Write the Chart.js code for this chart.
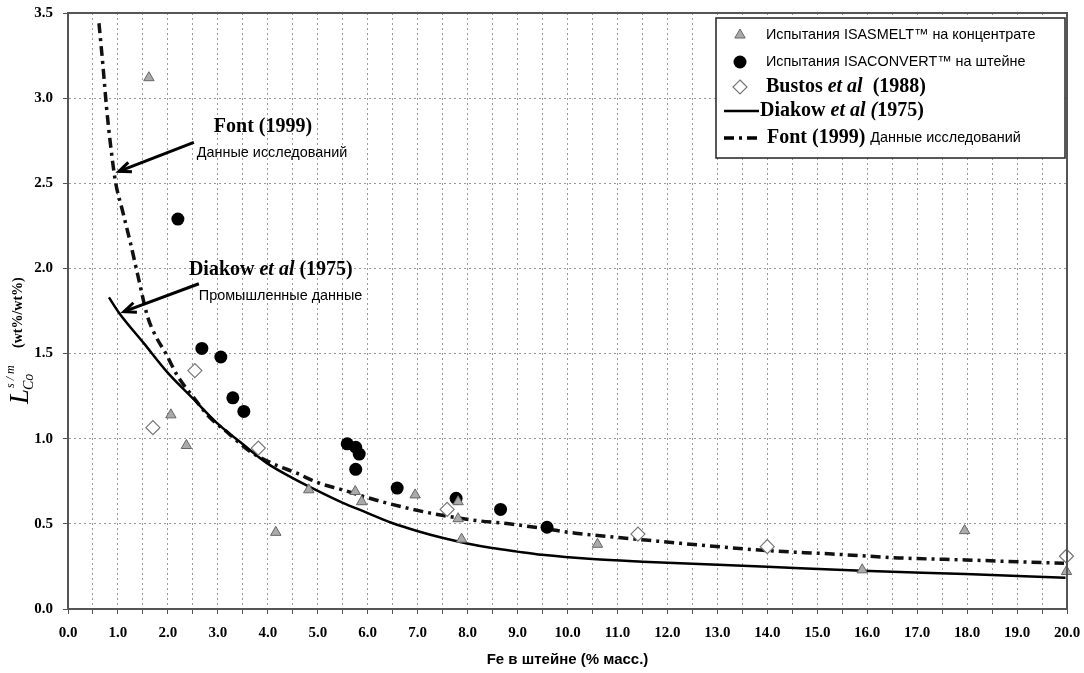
<!DOCTYPE html>
<html lang="ru">
<head>
<meta charset="UTF-8">
<title>Co distribution vs Fe in matte</title>
<style>
  body { margin: 0; background: #fff; }
  #wrap { position: relative; width: 1084px; height: 673px; }
</style>
</head>
<body>
<div id="wrap"><canvas id="myChart"></canvas></div>

<script src="https://cdn.jsdelivr.net/npm/chart.js"></script>
<script>
// --- data ---
const isasmeltX = [1.62, 2.06, 2.37, 4.16, 4.82, 5.75, 5.88, 6.95, 7.81, 7.81, 7.88, 10.60, 15.90, 17.95, 19.99]
const isasmeltY = [3.12, 1.14, 0.96, 0.45, 0.70, 0.69, 0.63, 0.67, 0.63, 0.53, 0.41, 0.38, 0.23, 0.46, 0.22]

const isaconvertX = [2.20, 2.68, 3.06, 3.30, 3.52, 5.59, 5.76, 5.83, 5.76, 6.59, 7.77, 8.66, 9.59]
const isaconvertY = [2.29, 1.53, 1.48, 1.24, 1.16, 0.97, 0.95, 0.91, 0.82, 0.71, 0.65, 0.585, 0.48]

const bustosX = [1.70, 2.54, 3.81, 7.59, 11.41, 14.00, 19.99]
const bustosY = [1.065, 1.40, 0.945, 0.585, 0.44, 0.366, 0.31]

const diakowX = [0.82, 1.02, 1.52, 1.99, 2.49, 2.99, 3.49, 3.99, 4.49, 4.99, 5.49, 5.99, 6.49, 6.99, 7.49, 7.99, 8.49, 8.99, 9.49, 10.5, 11.5, 14.0, 15.9, 17.97, 19.97]
const diakowY = [1.83, 1.74, 1.56, 1.39, 1.24, 1.09, 0.97, 0.855, 0.77, 0.695, 0.625, 0.565, 0.505, 0.458, 0.418, 0.385, 0.358, 0.337, 0.318, 0.293, 0.278, 0.248, 0.225, 0.205, 0.184]

const fontX = [0.62, 0.70, 0.77, 0.85, 0.95, 1.09, 1.25, 1.39, 1.59, 1.76, 1.96, 2.19, 2.52, 2.82, 3.22, 3.62, 4.09, 4.56, 5.02, 5.49, 6.16, 6.83, 7.49, 8.16, 8.83, 9.49, 10.16, 10.83, 11.56, 12.63, 14.0, 15.3, 16.64, 17.97, 19.94]
const fontY = [3.44, 3.19, 2.95, 2.73, 2.51, 2.34, 2.15, 1.97, 1.72, 1.60, 1.50, 1.37, 1.24, 1.13, 1.03, 0.93, 0.855, 0.80, 0.74, 0.70, 0.64, 0.59, 0.55, 0.52, 0.50, 0.474, 0.445, 0.425, 0.405, 0.376, 0.343, 0.323, 0.30, 0.288, 0.268]

const seriesNames = [
  'Испытания ISASMELT™ на концентрате',
  'Испытания ISACONVERT™ на штейне',
  'Bustos et al (1988)',
  'Diakow et al (1975)',
  'Font (1999) Данные исследований'
]
const xTitle = 'Fe в штейне (% масс.)'
const xMin = 0, xMax = 20, yMin = 0, yMax = 3.5, step = 0.5

const SERIF_B = 'bold 20px "Liberation Serif"'
const SERIF_BI = 'italic bold 20px "Liberation Serif"'
const SANS = '14.4px "Liberation Sans"'
const TICK_FONT = {family: 'Liberation Serif', size: 15, weight: 'bold'}
const FONT_DASH = [10, 5, 3, 5]

const pts = (xs, ys) => xs.map((x, i) => ({x: x, y: ys[i]}))

function drawParts(ctx, parts, x, y) {
  ctx.textAlign = 'left'
  ctx.textBaseline = 'middle'
  parts.forEach(p => {
    ctx.font = p[1]
    ctx.fillText(p[0], x, y)
    x += ctx.measureText(p[0]).width
  })
  return x
}

function arrow(ctx, x1, y1, x2, y2) {
  const a = Math.atan2(y2 - y1, x2 - x1)
  ctx.beginPath()
  ctx.moveTo(x1, y1)
  ctx.lineTo(x2, y2)
  ctx.stroke()
  ctx.beginPath()
  ctx.moveTo(x2 - 13 * Math.cos(a - 0.4), y2 - 13 * Math.sin(a - 0.4))
  ctx.lineTo(x2, y2)
  ctx.lineTo(x2 - 13 * Math.cos(a + 0.4), y2 - 13 * Math.sin(a + 0.4))
  ctx.stroke()
}

// frame, y title, annotations and the legend box
const extras = {
  id: 'extras',
  afterDraw(chart) {
    const ctx = chart.ctx
    const ca = chart.chartArea
    const xs = chart.scales.x, ys = chart.scales.y
    const px = v => xs.getPixelForValue(v), py = v => ys.getPixelForValue(v)
    ctx.save()

    // plot frame
    ctx.strokeStyle = '#555'
    ctx.lineWidth = 2
    ctx.strokeRect(ca.left, ca.top, ca.right - ca.left, ca.bottom - ca.top)

    // y axis title, rotated
    ctx.fillStyle = '#000'
    ctx.translate(28, 404)
    ctx.rotate(-Math.PI / 2)
    ctx.textAlign = 'left'
    ctx.textBaseline = 'alphabetic'
    ctx.font = 'italic 27px "Liberation Serif"'
    ctx.fillText('L', 0, 0)
    let w = ctx.measureText('L').width
    ctx.font = 'italic 14px "Liberation Serif"'
    ctx.fillText('Co', w - 1, 5)
    ctx.font = 'italic 12px "Liberation Serif"'
    ctx.fillText('s / m', w + 1, -14)
    ctx.font = 'bold 14px "Liberation Serif"'
    ctx.fillText('(wt%/wt%)', 56, -6)
    ctx.setTransform(1, 0, 0, 1, 0, 0)

    // annotations with arrows
    ctx.fillStyle = '#000'
    drawParts(ctx, [['Font (1999)', SERIF_B]], px(2.92), py(2.83))
    drawParts(ctx, [['Данные исследований', SANS]], px(2.58), py(2.68))
    drawParts(ctx, [['Diakow ', SERIF_B], ['et al', SERIF_BI], [' (1975)', SERIF_B]], px(2.42), py(1.99))
    drawParts(ctx, [['Промышленные данные', SANS]], px(2.62), py(1.84))
    ctx.strokeStyle = '#000'
    ctx.lineWidth = 3
    arrow(ctx, px(2.52), py(2.74), px(1.02), py(2.57))
    arrow(ctx, px(2.62), py(1.91), px(1.12), py(1.746))

    // legend
    const L = {x: 716, y: 18, w: 349, h: 140}
    ctx.fillStyle = '#fff'
    ctx.fillRect(L.x, L.y, L.w, L.h)
    ctx.strokeStyle = '#222'
    ctx.lineWidth = 1.5
    ctx.strokeRect(L.x, L.y, L.w, L.h)

    const mx = 740
    // triangle
    ctx.beginPath()
    ctx.moveTo(mx, 35 - 6)
    ctx.lineTo(mx + 5.2, 35 + 3)
    ctx.lineTo(mx - 5.2, 35 + 3)
    ctx.closePath()
    ctx.fillStyle = '#aaa'
    ctx.fill()
    ctx.strokeStyle = '#666'
    ctx.lineWidth = 1
    ctx.stroke()
    // circle
    ctx.beginPath()
    ctx.arc(mx, 62, 6.5, 0, Math.PI * 2)
    ctx.fillStyle = '#000'
    ctx.fill()
    // diamond
    ctx.beginPath()
    ctx.moveTo(mx, 87 - 7)
    ctx.lineTo(mx + 7, 87)
    ctx.lineTo(mx, 87 + 7)
    ctx.lineTo(mx - 7, 87)
    ctx.closePath()
    ctx.fillStyle = '#fff'
    ctx.fill()
    ctx.strokeStyle = '#777'
    ctx.lineWidth = 1.2
    ctx.stroke()
    // solid line
    ctx.strokeStyle = '#000'
    ctx.lineWidth = 2.5
    ctx.beginPath()
    ctx.moveTo(724, 111)
    ctx.lineTo(759, 111)
    ctx.stroke()
    // dashed line
    ctx.lineWidth = 3.5
    ctx.setLineDash(FONT_DASH)
    ctx.beginPath()
    ctx.moveTo(724, 138)
    ctx.lineTo(759, 138)
    ctx.stroke()
    ctx.setLineDash([])

    ctx.fillStyle = '#000'
    drawParts(ctx, [[seriesNames[0], SANS]], 766, 35)
    drawParts(ctx, [[seriesNames[1], SANS]], 766, 62)
    drawParts(ctx, [['Bustos ', SERIF_B], ['et al', SERIF_BI], ['  (1988)', SERIF_B]], 766, 87)
    drawParts(ctx, [['Diakow ', SERIF_B], ['et al (', SERIF_BI], ['1975)', SERIF_B]], 760, 111)
    drawParts(ctx, [['Font (1999) ', SERIF_B], ['Данные исследований', SANS]], 767, 138)

    ctx.restore()
  }
}

const ctx = document.getElementById('myChart')
const myChart = new Chart(ctx, {
  type: 'scatter',
  data: {
    datasets: [
      {
        label: seriesNames[0],
        data: pts(isasmeltX, isasmeltY),
        pointStyle: 'triangle',
        pointRadius: 6,
        backgroundColor: '#aaa',
        borderColor: '#666',
        borderWidth: 1,
        clip: false,
        order: 1
      },
      {
        label: seriesNames[1],
        data: pts(isaconvertX, isaconvertY),
        pointStyle: 'circle',
        pointRadius: 6.5,
        backgroundColor: '#000',
        borderColor: '#000',
        borderWidth: 0,
        clip: false,
        order: 1
      },
      {
        label: seriesNames[2],
        data: pts(bustosX, bustosY),
        pointStyle: 'rectRot',
        pointRadius: 7,
        backgroundColor: '#fff',
        borderColor: '#777',
        borderWidth: 1.2,
        clip: false,
        order: 1
      },
      {
        label: seriesNames[3],
        type: 'line',
        data: pts(diakowX, diakowY),
        showLine: true,
        borderColor: '#000',
        borderWidth: 2.5,
        pointRadius: 0,
        cubicInterpolationMode: 'monotone',
        fill: false,
        order: 3
      },
      {
        label: seriesNames[4],
        type: 'line',
        data: pts(fontX, fontY),
        showLine: true,
        borderColor: '#111',
        borderWidth: 3.5,
        borderDash: FONT_DASH,
        pointRadius: 0,
        cubicInterpolationMode: 'monotone',
        fill: false,
        order: 3
      }
    ]
  },
  options: {
    responsive: true,
    maintainAspectRatio: false,
    animation: false,
    layout: {padding: {top: 13, right: 17, left: 0, bottom: 0}},
    plugins: {
      legend: {display: false},
      tooltip: {enabled: false}
    },
    scales: {
      x: {
        type: 'linear',
        min: xMin,
        max: xMax,
        afterFit: s => {
          s.height = 64
          s.paddingLeft = 0
          s.paddingRight = 0
        },
        ticks: {
          stepSize: step,
          autoSkip: false,
          maxRotation: 0,
          padding: 10,
          color: '#000',
          font: TICK_FONT,
          callback: v => Number.isInteger(v) ? v.toFixed(1) : ''
        },
        grid: {color: '#999', lineWidth: 1, tickLength: 5, tickColor: '#555'},
        border: {display: true, color: '#555', width: 2, dash: [2, 3]},
        title: {
          display: true,
          text: xTitle,
          color: '#000',
          font: {family: 'Liberation Sans', size: 15, weight: 'bold'},
          padding: {top: 2, bottom: 4}
        }
      },
      y: {
        type: 'linear',
        min: yMin,
        max: yMax,
        afterFit: s => {
          s.width = 68
          s.paddingTop = 0
          s.paddingBottom = 0
        },
        ticks: {
          stepSize: step,
          padding: 10,
          color: '#000',
          font: TICK_FONT,
          callback: v => v.toFixed(1)
        },
        grid: {color: '#999', lineWidth: 1, tickLength: 5, tickColor: '#555'},
        border: {display: true, color: '#555', width: 2, dash: [2, 3]}
      }
    }
  },
  plugins: [extras]
})
</script>
</body>
</html>
